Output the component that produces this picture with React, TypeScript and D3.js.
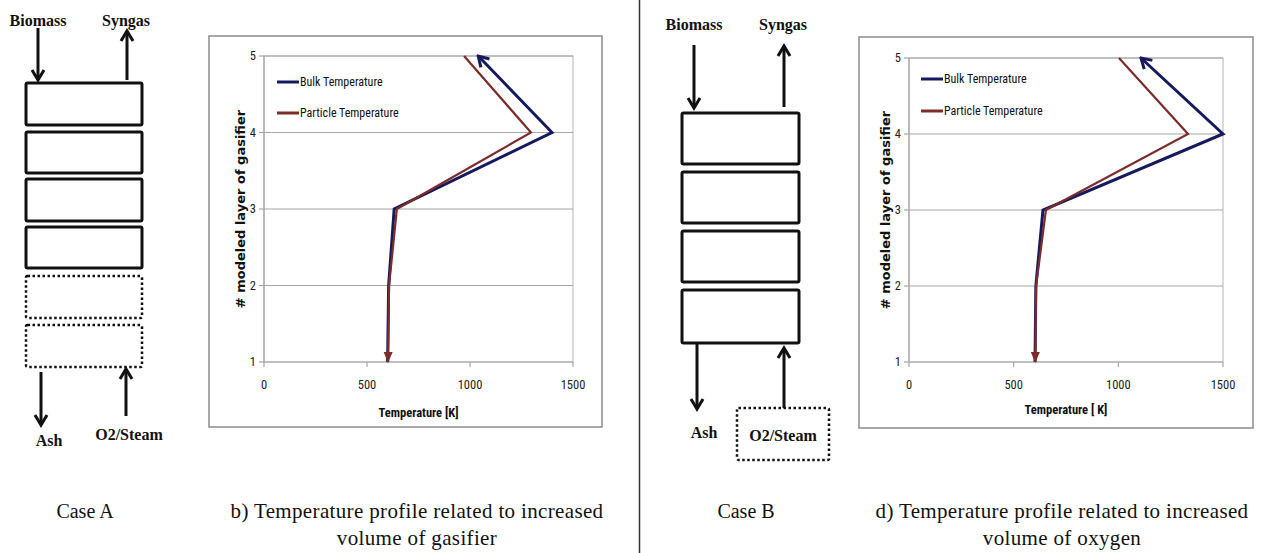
import * as d3 from "d3";
import React from "react";

// layers of the gasifier model (y axis)
const layers = [1, 2, 3, 4, 5];
const yTicks = [1, 2, 3, 4, 5];
const xTicks = [0, 500, 1000, 1500];

// b) increased volume of gasifier
const bulkB = [600, 605, 632, 1398, 1040];
const particleB = [602, 607, 645, 1296, 971];

// d) increased volume of oxygen
const bulkD = [602, 606, 640, 1500, 1108];
const particleD = [603, 607, 654, 1333, 1003];

const seriesNames = ["Bulk Temperature", "Particle Temperature"];

const BULK = "#15195e";
const PARTICLE = "#7c2c2a";
const GRID = "#a6a6a6";
const NARROW = "'Liberation Sans Narrow', 'Arial Narrow', 'Roboto Condensed', sans-serif";
const SERIF = "'Liberation Serif', 'Times New Roman', serif";

type Panel = {
  id: string;
  box: { x: number; y: number; w: number; h: number };
  plot: { left: number; right: number; top: number; bottom: number };
  bulk: number[];
  particle: number[];
  xTitle: string;
  legendX: number;
  legendY: [number, number];
  xTitleY: number;
};

const panels: Panel[] = [
  {
    id: "b",
    box: { x: 209, y: 36, w: 393, h: 391 },
    plot: { left: 264, right: 573, top: 56, bottom: 362 },
    bulk: bulkB,
    particle: particleB,
    xTitle: "Temperature [K]",
    legendX: 277,
    legendY: [82, 113],
    xTitleY: 417,
  },
  {
    id: "d",
    box: { x: 859, y: 37, w: 394, h: 391 },
    plot: { left: 909, right: 1223, top: 58, bottom: 362 },
    bulk: bulkD,
    particle: particleD,
    xTitle: "Temperature [ K]",
    legendX: 921,
    legendY: [79, 111],
    xTitleY: 414,
  },
];

function ChartPanel({ p }: { p: Panel }) {
  const x = d3.scaleLinear().domain([0, 1500]).range([p.plot.left, p.plot.right]);
  const y = d3.scaleLinear().domain([1, 5]).range([p.plot.bottom, p.plot.top]);
  const line = d3
    .line<number>()
    .x((d) => x(d))
    .y((_, i) => y(layers[i]));
  const midY = (p.plot.top + p.plot.bottom) / 2;

  return (
    <g>
      <rect x={p.box.x} y={p.box.y} width={p.box.w} height={p.box.h} fill="#fff" stroke="#8c8c8c" strokeWidth={1.5} />
      {/* plot area border */}
      <rect
        x={p.plot.left}
        y={p.plot.top}
        width={p.plot.right - p.plot.left}
        height={p.plot.bottom - p.plot.top}
        fill="none"
        stroke="#b4b4b4"
        strokeWidth={1}
      />
      {yTicks.map((t) => (
        <g key={"y" + t}>
          <line x1={p.plot.left} x2={p.plot.right} y1={y(t)} y2={y(t)} stroke={GRID} strokeWidth={1.2} />
          <line x1={p.plot.left - 5} x2={p.plot.left} y1={y(t)} y2={y(t)} stroke={GRID} strokeWidth={1.2} />
          <text x={p.plot.left - 8} y={y(t)} dy="0.35em" textAnchor="end" fontFamily={NARROW} fontSize={12.5} fill="#222">
            {t}
          </text>
        </g>
      ))}
      <line x1={p.plot.left} x2={p.plot.left} y1={p.plot.top} y2={p.plot.bottom} stroke={GRID} strokeWidth={1.2} />
      {xTicks.map((t) => (
        <g key={"x" + t}>
          <line x1={x(t)} x2={x(t)} y1={p.plot.bottom} y2={p.plot.bottom + 5} stroke={GRID} strokeWidth={1.2} />
          <text x={x(t)} y={p.plot.bottom + 27} textAnchor="middle" fontFamily={NARROW} fontSize={12.5} fill="#222">
            {t}
          </text>
        </g>
      ))}
      <text
        transform={`translate(${p.plot.left - 24},${midY}) rotate(-90)`}
        textAnchor="middle"
        dy="0.35em"
        fontFamily="'DejaVu Sans', Verdana, sans-serif"
        fontWeight="bold"
        fontSize={13}
        fill="#111"
      >
        # modeled layer of gasifier
      </text>
      <text
        x={(p.plot.left + p.plot.right) / 2}
        y={p.xTitleY}
        textAnchor="middle"
        fontFamily={NARROW}
        fontWeight="bold"
        fontSize={12.5}
        fill="#111"
      >
        {p.xTitle}
      </text>

      <path d={line(p.bulk) ?? ""} fill="none" stroke={BULK} strokeWidth={3} strokeLinejoin="miter" markerEnd={`url(#open-${p.id})`} />
      <path d={line(p.particle) ?? ""} fill="none" stroke={PARTICLE} strokeWidth={2.2} markerStart={`url(#tri-${p.id})`} />

      {seriesNames.map((name, i) => (
        <g key={name}>
          <line
            x1={p.legendX}
            x2={p.legendX + 22}
            y1={p.legendY[i]}
            y2={p.legendY[i]}
            stroke={i === 0 ? BULK : PARTICLE}
            strokeWidth={3}
          />
          <text x={p.legendX + 23} y={p.legendY[i]} dy="0.35em" fontFamily={NARROW} fontSize={12} fill="#111">
            {name}
          </text>
        </g>
      ))}
    </g>
  );
}

function Arrow({ x, y1, y2 }: { x: number; y1: number; y2: number }) {
  const dir = y2 > y1 ? 1 : -1;
  return (
    <g stroke="#111" strokeWidth={3} fill="none">
      <line x1={x} x2={x} y1={y1} y2={y2} />
      <path d={`M${x - 6},${y2 - dir * 10} L${x},${y2} L${x + 6},${y2 - dir * 10}`} strokeLinejoin="miter" />
    </g>
  );
}

function Label({ x, y, text }: { x: number; y: number; text: string }) {
  return (
    <text x={x} y={y} textAnchor="middle" fontFamily={SERIF} fontWeight="bold" fontSize={16} fill="#111">
      {text}
    </text>
  );
}

function Box({ x, y, w, h, dotted }: { x: number; y: number; w: number; h: number; dotted?: boolean }) {
  return (
    <rect
      x={x}
      y={y}
      width={w}
      height={h}
      rx={1.5}
      fill="none"
      stroke="#111"
      strokeWidth={dotted ? 2.5 : 3}
      strokeDasharray={dotted ? "2.5 2.5" : undefined}
    />
  );
}

export default function App() {
  const boxesA = [
    [83, 125],
    [132, 173],
    [179, 221],
    [227, 268],
  ];
  const dottedA = [
    [276, 318],
    [325, 367],
  ];
  const boxesB = [
    [113, 164],
    [172, 223],
    [231, 282],
    [290, 343],
  ];
  return (
    <svg
      width={1261}
      height={553}
      viewBox="0 0 1261 553"
      style={{ position: "absolute", left: 0, top: 0, display: "block", background: "#fff" }}
    >
      <defs>
        {panels.map((p) => (
          <React.Fragment key={p.id}>
            <marker id={`open-${p.id}`} markerUnits="userSpaceOnUse" viewBox="-12 -8 14 16" markerWidth={14} markerHeight={16} refX={0} refY={0} orient="auto">
              <path d="M-10,-6 L0,0 L-10,6" fill="none" stroke={BULK} strokeWidth={3} />
            </marker>
            <marker id={`tri-${p.id}`} markerUnits="userSpaceOnUse" viewBox="-10 -6 12 12" markerWidth={12} markerHeight={12} refX={0} refY={0} orient="auto-start-reverse">
              <path d="M-10,-4.5 L1,0 L-10,4.5 Z" fill={PARTICLE} />
            </marker>
          </React.Fragment>
        ))}
      </defs>

      {/* Case A schematic */}
      <Label x={38} y={26} text="Biomass" />
      <Label x={126} y={26} text="Syngas" />
      <Arrow x={38} y1={28} y2={80} />
      <Arrow x={127} y1={80} y2={31} />
      {boxesA.map(([a, b], i) => (
        <Box key={"a" + i} x={26} y={a} w={116} h={b - a} />
      ))}
      {dottedA.map(([a, b], i) => (
        <Box key={"ad" + i} x={26} y={a} w={116} h={b - a} dotted />
      ))}
      <Arrow x={41} y1={372} y2={425} />
      <Arrow x={126} y1={416} y2={369} />
      <Label x={49} y={446} text="Ash" />
      <Label x={129} y={440} text="O2/Steam" />

      {/* divider */}
      <line x1={639.5} x2={639.5} y1={0} y2={553} stroke="#333" strokeWidth={1.5} />

      {/* Case B schematic */}
      <Label x={694} y={30} text="Biomass" />
      <Label x={783} y={30} text="Syngas" />
      <Arrow x={694} y1={45} y2={108} />
      <Arrow x={784} y1={107} y2={46} />
      {boxesB.map(([a, b], i) => (
        <Box key={"b" + i} x={682} y={a} w={117} h={b - a} />
      ))}
      <Arrow x={697} y1={343} y2={409} />
      <Arrow x={784} y1={408} y2={348} />
      <Label x={704} y={438} text="Ash" />
      <Box x={737} y={408} w={92} h={52} dotted />
      <Label x={783} y={441} text="O2/Steam" />

      {panels.map((p) => (
        <ChartPanel key={p.id} p={p} />
      ))}

      {/* captions */}
      <g fontFamily={SERIF} fontSize={20} fill="#111" textAnchor="middle">
        <text x={85} y={518}>Case A</text>
        <text x={746} y={518}>Case B</text>
      </g>
      <g fontFamily={SERIF} fontSize={21} letterSpacing={0.35} fill="#111" textAnchor="middle">
        <text x={417} y={518}>b) Temperature profile related to increased</text>
        <text x={417} y={545}>volume of gasifier</text>
        <text x={1062} y={518}>d) Temperature profile related to increased</text>
        <text x={1062} y={545}>volume of oxygen</text>
      </g>
    </svg>
  );
}
